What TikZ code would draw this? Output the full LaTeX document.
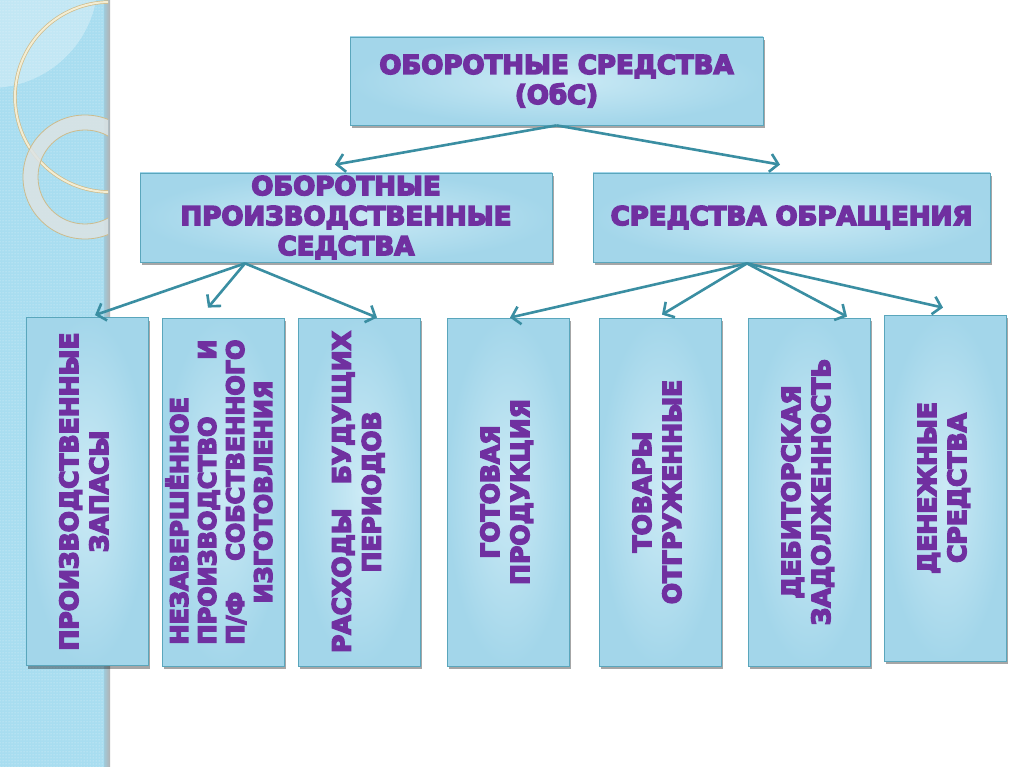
\documentclass[tikz,border=0pt]{standalone}
\usepackage{fontspec}
\newfontfamily\hv{DejaVu Sans}[BoldFeatures={FakeBold=6}]
\usetikzlibrary{arrows.meta,shadows,calc,patterns}
\definecolor{txt}{HTML}{7030A0}
\definecolor{boxin}{HTML}{CBEAF5}
\definecolor{boxout}{HTML}{A3D6EA}
\definecolor{boxline}{HTML}{5AA6BC}
\definecolor{arr}{HTML}{3A8EA2}
\definecolor{stripe}{HTML}{A8DDF0}
\definecolor{ringcream}{HTML}{F4EDD2}
\definecolor{ringedge}{HTML}{CDBB8C}
\definecolor{ringband}{HTML}{DCE3E4}
\begin{document}
\begin{tikzpicture}[x=1pt,y=-1pt,
  box/.style={draw=boxline, line width=0.8pt, inner color=boxin, outer color=boxout,
    inner sep=0pt, align=center, text=txt,
    drop shadow={shadow xshift=1.5pt, shadow yshift=-3pt, opacity=0.35, fill=black}},
  hbox/.style={box, font=\hv\bfseries\fontsize{26}{30}\selectfont},
  vbox/.style={box, minimum width=122pt, minimum height=348pt,
    font=\hv\bfseries\fontsize{25}{30}\selectfont},
  conn/.style={draw=arr, line width=2.6pt, -{Straight Barb[length=8pt,width=18pt]}}
]
\useasboundingbox (0,0) rectangle (1024,767);
\fill[white] (0,0) rectangle (1024,767);
% left stripe
\fill[stripe] (0,0) rectangle (110,767);
\fill[pattern=dots, pattern color=white!65!stripe] (0,0) rectangle (104,767);
\shade[left color=stripe!80!gray, right color=gray!60] (104,0) rectangle (110,767);
\begin{scope}
  \clip (0,0) rectangle (108,767);
  \fill[white, opacity=0.3] (-10,-20) circle (108);
  \draw[ringedge, line width=3.4pt] (110,97) circle (95);
  \draw[ringcream, line width=2pt] (110,97) circle (95);
  \fill[ringband, opacity=0.85, even odd rule] (85,177) circle (62) (85,177) circle (47);
  \draw[ringedge, line width=0.8pt] (85,177) circle (62) (85,177) circle (47);
\end{scope}
% boxes
\node[hbox, minimum width=413pt, minimum height=88pt] (top) at (556.5,81)
  {\fontsize{26}{36}\selectfont ОБОРОТНЫЕ СРЕДСТВА\\(ОбС)};
\node[hbox, minimum width=412pt, minimum height=89pt] (L2) at (346,217.5)
  {ОБОРОТНЫЕ\\ПРОИЗВОДСТВЕННЫЕ\\СЕДСТВА};
\node[hbox, minimum width=397pt, minimum height=89pt] (R2) at (791.5,217.5)
  {СРЕДСТВА ОБРАЩЕНИЯ};
\node[vbox] (b1) at (87,491.5)
  {\rotatebox{90}{\begin{tabular}{@{}c@{}}ПРОИЗВОДСТВЕННЫЕ\\ЗАПАСЫ\end{tabular}}};
\node[vbox] (b2) at (223,492)
  {\rotatebox{90}{\fontsize{24}{28}\selectfont\begin{tabular}{@{}c@{}}\makebox[305pt][l]{НЕЗАВЕРШЁННОЕ}\\\makebox[305pt][s]{ПРОИЗВОДСТВО\hfill И}\\\makebox[305pt][s]{П/Ф\hfill СОБСТВЕННОГО}\\ИЗГОТОВЛЕНИЯ\end{tabular}}};
\node[vbox] (b3) at (359.5,492)
  {\rotatebox{90}{\begin{tabular}{@{}c@{}}\makebox[322pt][s]{РАСХОДЫ\hfill БУДУЩИХ}\\ПЕРИОДОВ\end{tabular}}};
\node[vbox] (b4) at (508,492)
  {\rotatebox{90}{\begin{tabular}{@{}c@{}}ГОТОВАЯ\\ПРОДУКЦИЯ\end{tabular}}};
\node[vbox] (b5) at (660,492)
  {\rotatebox{90}{\begin{tabular}{@{}c@{}}ТОВАРЫ\\ОТГРУЖЕННЫЕ\end{tabular}}};
\node[vbox] (b6) at (809,492)
  {\rotatebox{90}{\begin{tabular}{@{}c@{}}ДЕБИТОРСКАЯ\\ЗАДОЛЖЕННОСТЬ\end{tabular}}};
\node[vbox, minimum height=346pt] (b7) at (945,488)
  {\rotatebox{90}{\begin{tabular}{@{}c@{}}ДЕНЕЖНЫЕ\\СРЕДСТВА\end{tabular}}};
% connector points
\coordinate (ta1) at ($(L2.north)+(-11,-8)$);
\coordinate (ta2) at ($(R2.north)+(-11.5,-8)$);
\coordinate (ls) at ($(L2.south)+(-101,1)$);
\coordinate (rs) at ($(R2.south)+(-44.5,1)$);
\coordinate (e1) at ($(b1.north)+(8,-2)$);
\coordinate (e2) at ($(b2.north)+(-15,-10)$);
\coordinate (e3) at ($(b3.north)+(17.5,0)$);
\coordinate (e4) at ($(b4.north)+(2,0)$);
\coordinate (e5) at ($(b5.north)+(2,-3)$);
\coordinate (e6) at ($(b6.north)+(38,-1)$);
\coordinate (e7) at ($(b7.north)+(-2,-7)$);
% connectors
\draw[conn] (top.south) -- (ta1);
\draw[conn] (top.south) -- (ta2);
\draw[conn] (ls) -- (e1);
\draw[conn] (ls) -- (e2);
\draw[conn] (ls) -- (e3);
\draw[conn] (rs) -- (e4);
\draw[conn] (rs) -- (e5);
\draw[conn] (rs) -- (e6);
\draw[conn] (rs) -- (e7);
\end{tikzpicture}
\end{document}
